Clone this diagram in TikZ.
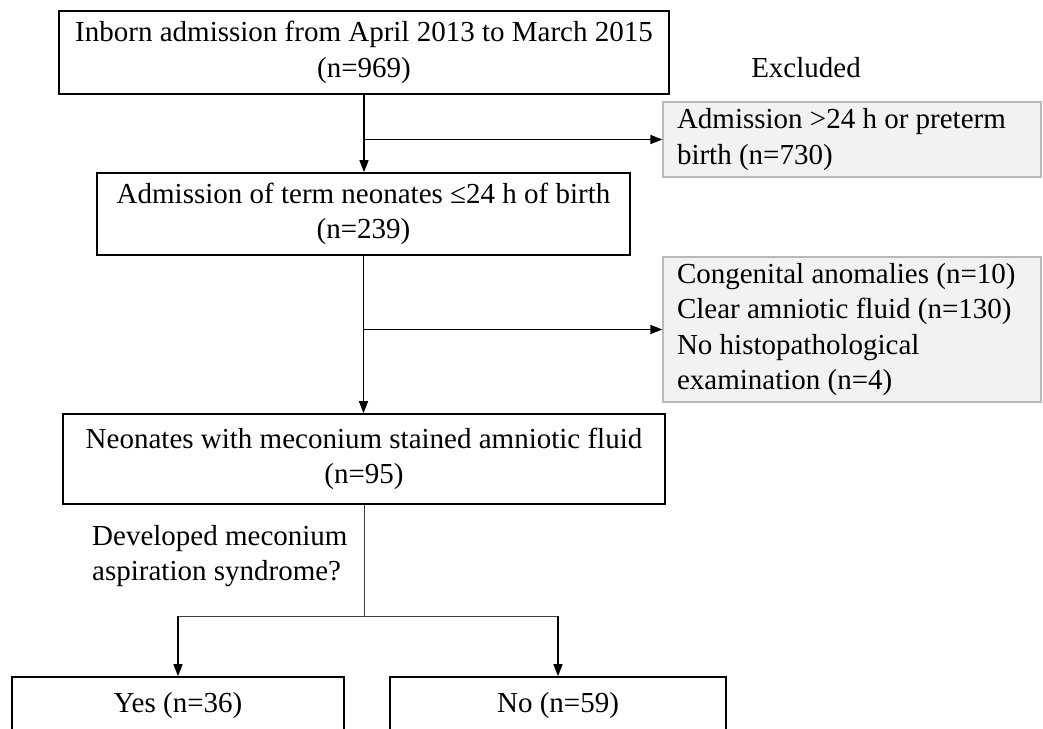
\documentclass[tikz,border=0pt]{standalone}
\usepackage{fontspec}
\setmainfont{Liberation Serif}
\usetikzlibrary{arrows.meta}
\begin{document}
\begin{tikzpicture}[x=1pt,y=-1pt,
  every node/.style={font=\fontsize{29}{35.5}\selectfont, inner sep=0pt},
  mainbox/.style={draw=black, line width=1.6pt, fill=white, align=center},
  exclbox/.style={draw=gray!55, line width=1.2pt, fill=gray!10, align=flush left,
    text width=350pt, inner xsep=14pt},
  arr/.style={line width=1.4pt, -{Triangle[length=12pt,width=9pt]}},
  thinline/.style={line width=0.8pt, draw=black!75}
]
\useasboundingbox (0,0) rectangle (1043,728);
\node[mainbox, minimum width=610pt, minimum height=83pt] (top) at (364,52.5)
  {Inborn admission from April 2013 to March 2015\\(n=969)};
\node (exlabel) at (806,68) {Excluded};
\node[exclbox, minimum height=75pt] (ex1) at (852,139.5)
  {Admission >24 h or preterm\\birth (n=730)};
\node[mainbox, minimum width=533pt, minimum height=82pt] (b2) at (363.5,214)
  {Admission of term neonates ≤24 h of birth\\(n=239)};
\node[exclbox, minimum height=145pt] (ex2) at (852,329.5)
  {Congenital anomalies (n=10)\\Clear amniotic fluid (n=130)\\No histopathological\\examination (n=4)};
\node[mainbox, minimum width=602pt, minimum height=90pt] (b3) at (364,459)
  {Neonates with meconium stained amniotic fluid\\(n=95)};
\node[align=flush left, anchor=west] (q) at (92,556)
  {Developed meconium\\aspiration syndrome?};
\node[mainbox, minimum width=332pt, minimum height=58pt] (yes) at (178,706) {Yes (n=36)};
\node[mainbox, minimum width=336pt, minimum height=58pt] (no) at (558,706) {No (n=59)};
\coordinate (br) at (364,616);
\coordinate (bl) at (178,616);
\coordinate (bn) at (558,616);
\draw[arr] (top.south) -- (top.south |- b2.north);
\draw[arr] (top.south |- ex1.west) -- (ex1.west);
\draw[arr] (b2.south) -- (b2.south |- b3.north);
\draw[arr] (b2.south |- ex2.west) -- (ex2.west);
\draw[thinline] (b3.south) -- (br);
\draw[thinline] (bl) -- (bn);
\draw[arr] (bl) -- (yes.north);
\draw[arr] (bn) -- (no.north);
\end{tikzpicture}
\end{document}
